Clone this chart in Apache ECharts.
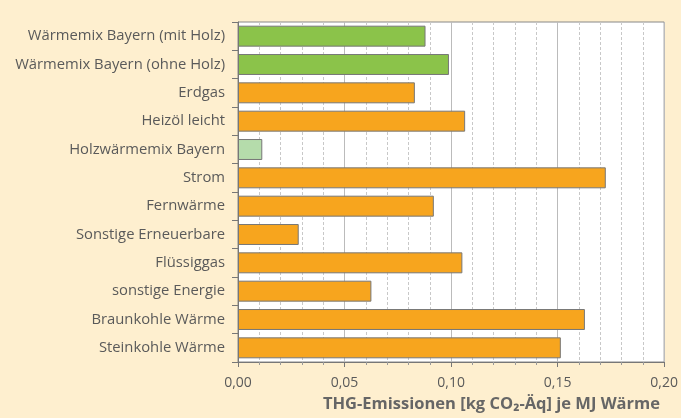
<!DOCTYPE html>
<html><head><meta charset="utf-8">
<script src="https://cdn.jsdelivr.net/npm/echarts@6/dist/echarts.min.js"></script>
<style>html,body{margin:0;padding:0;background:#FEEFCF;}#c{width:681px;height:418px;}</style>
</head><body><div id="c"></div>
<script>
const categories = ["Wärmemix Bayern (mit Holz)","Wärmemix Bayern (ohne Holz)","Erdgas","Heizöl leicht","Holzwärmemix Bayern","Strom","Fernwärme","Sonstige Erneuerbare","Flüssiggas","sonstige Energie","Braunkohle Wärme","Steinkohle Wärme"];
const values = [0.088,0.099,0.083,0.1066,0.0114,0.1726,0.0919,0.0285,0.1053,0.0626,0.1628,0.1515];
const colorGroups = ["green","green","orange","orange","lightgreen","orange","orange","orange","orange","orange","orange","orange"];
const xTicks = [0,0.05,0.1,0.15,0.2];
const axisTitle = "THG-Emissionen [kg CO₂-Äq] je MJ Wärme";
const palette = {green:"#8BC34A",orange:"#F7A51E",lightgreen:"#B5DCAB"};
const chart = echarts.init(document.getElementById('c'));
chart.setOption({
  backgroundColor:'#FEEFCF',
  animation:false,
  title:{text:axisTitle,right:16,bottom:0,textStyle:{fontFamily:'Open Sans',fontSize:16.5,fontWeight:'bold',color:'#666'}},
  grid:{left:238,right:16,top:22,bottom:56,show:true,backgroundColor:'#fff',borderColor:'#888',borderWidth:1},
  xAxis:{type:'value',min:xTicks[0],max:xTicks[xTicks.length-1],interval:0.05,
    axisLine:{show:true,lineStyle:{color:'#777'}},
    axisTick:{show:true,length:5,lineStyle:{color:'#777'}},
    minorTick:{show:true,splitNumber:5,length:3,lineStyle:{color:'#999'}},
    splitLine:{show:true,lineStyle:{color:'#bbb',width:1}},
    minorSplitLine:{show:true,lineStyle:{color:'#c8c8c8',type:[3,2],width:1}},
    axisLabel:{formatter:v=>v.toFixed(2).replace('.',','),color:'#5a5a5a',fontFamily:'Open Sans',fontSize:14,margin:14}},
  yAxis:{type:'category',data:categories,inverse:true,
    axisLine:{show:true,lineStyle:{color:'#777'}},
    axisTick:{show:true,length:6,lineStyle:{color:'#777'}},
    axisLabel:{color:'#5a5a5a',fontFamily:'Open Sans',fontSize:14.8,margin:13},
    splitLine:{show:false}},
  series:[{type:'bar',data:values.map((v,i)=>({value:v,itemStyle:{color:palette[colorGroups[i]]}})),
    barCategoryGap:'26%',itemStyle:{borderColor:'#777',borderWidth:1}}]
});
</script></body></html>
